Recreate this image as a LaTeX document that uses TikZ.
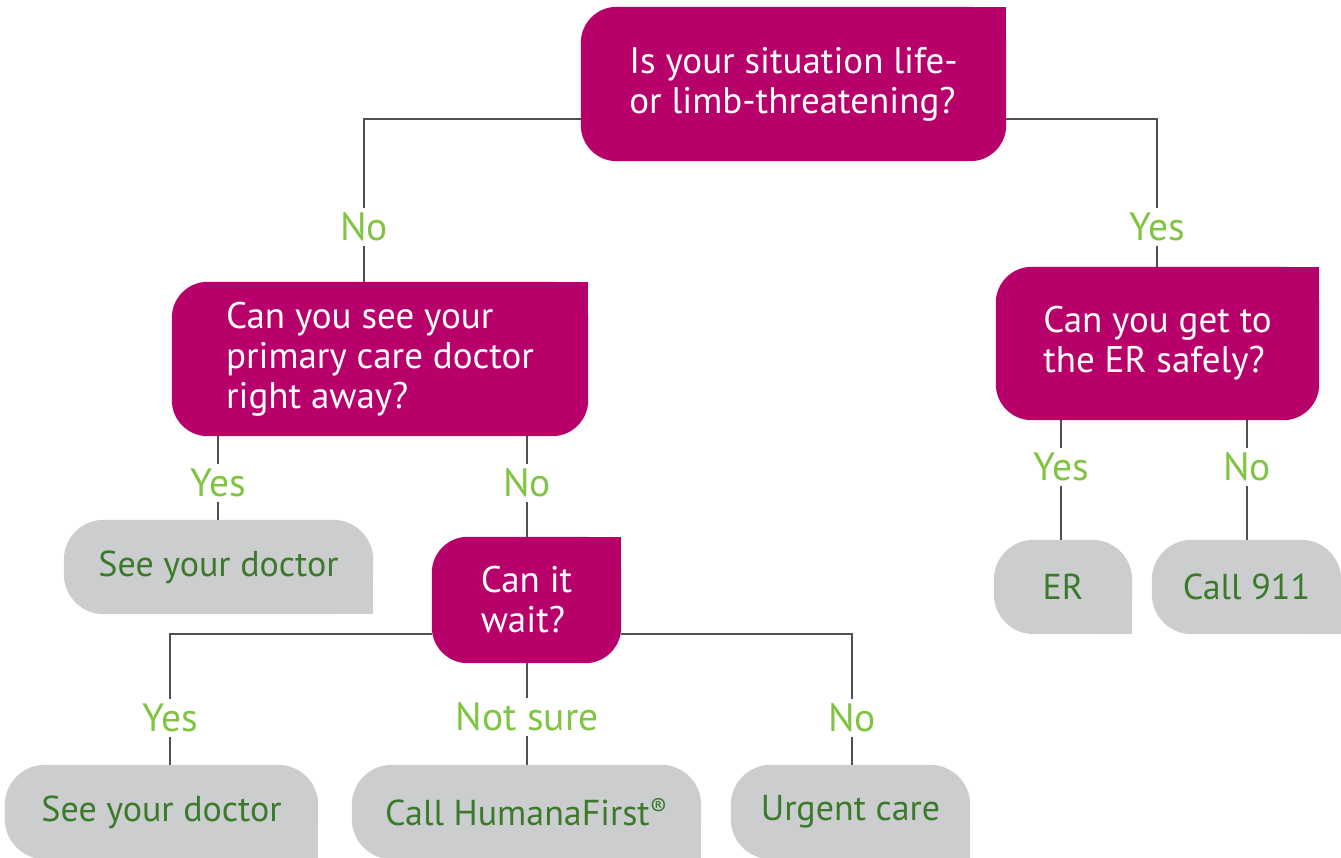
\documentclass[tikz,border=0pt]{standalone}
\usepackage{fontspec}
\setmainfont{PT Sans}
\usepackage{xcolor}
\usetikzlibrary{backgrounds}

\definecolor{qmag}{RGB}{184,0,107}
\definecolor{agrey}{RGB}{204,205,207}
\definecolor{adark}{RGB}{58,122,42}
\definecolor{lgreen}{RGB}{128,196,66}
\definecolor{lgrey}{RGB}{80,80,80}

% question boxes: square top right, answer boxes: square bottom right
\newcommand\magback[1]{%
  \fill[qmag,rounded corners=36pt] (#1.south west) rectangle (#1.north east);
  \fill[qmag] (#1.center) rectangle (#1.north east);}
\newcommand\greyback[1]{%
  \fill[agrey,rounded corners=40pt] (#1.south west) rectangle (#1.north east);
  \fill[agrey] (#1.center) rectangle (#1.south east);}

\begin{document}
\begin{tikzpicture}[x=1pt,y=-1pt,
  qbox/.style={text=white,align=left,inner sep=0pt,font=\fontsize{37}{40}\selectfont},
  abox/.style={text=adark,inner sep=0pt,font=\fontsize{36}{40}\selectfont},
  lbl/.style={text=lgreen,inner xsep=2pt,inner ysep=5pt,font=\fontsize{39.5}{40}\selectfont},
  link/.style={draw=lgrey,line width=1.8pt}]
  \useasboundingbox (0,0) rectangle (1341,858);

  % questions
  \node[qbox,minimum width=425pt,minimum height=154pt] (life) at (793.5,84)
    {Is your situation life-\\or limb-threatening?};
  \node[qbox,minimum width=416pt,minimum height=154pt] (primary) at (380,359)
    {Can you see your\\primary care doctor\\right away?};
  \node[qbox,minimum width=323pt,minimum height=153pt] (safely) at (1157.5,343.5)
    {Can you get to\\the ER safely?};
  \node[qbox,minimum width=189pt,minimum height=126pt] (wait) at (526.5,600)
    {Can it\\wait?};

  % answers
  \node[abox,minimum width=309pt,minimum height=94pt] (doctorA) at (218.5,567) {See your doctor};
  \node[abox,minimum width=313pt,minimum height=94pt] (doctorB) at (161.5,812) {See your doctor};
  \node[abox,minimum width=349pt,minimum height=94pt] (humana) at (526.5,812)
    {Call HumanaFirst\textsuperscript{\textregistered}};
  \node[abox,minimum width=239pt,minimum height=94pt] (urgent) at (850.5,812) {Urgent care};
  \node[abox,minimum width=138pt,minimum height=94pt] (er) at (1063,587) {ER};
  \node[abox,minimum width=189pt,minimum height=94pt] (call) at (1246.5,587) {Call 911};

  % branch labels
  \node[lbl] (noA) at (364,227) {No};
  \node[lbl] (yesA) at (1157,227) {Yes};
  \node[lbl] (yesB) at (218,483) {Yes};
  \node[lbl] (noB) at (527,483) {No};
  \node[lbl] (yesC) at (1061,467) {Yes};
  \node[lbl] (noC) at (1247,467) {No};
  \node[lbl] (yesD) at (170,718) {Yes};
  \node[lbl] (unsure) at (527,717) {Not sure};
  \node[lbl] (noD) at (852,718) {No};

  \begin{scope}[on background layer]
    \magback{life} \magback{primary} \magback{safely} \magback{wait}
    \greyback{doctorA} \greyback{doctorB} \greyback{humana}
    \greyback{urgent} \greyback{er} \greyback{call}
  \end{scope}

  \draw[link] ([yshift=-35pt]life.west) -| (noA);
  \draw[link] (noA) -- (noA |- primary.north);
  \draw[link] ([yshift=-35pt]life.east) -| (yesA);
  \draw[link] (yesA) -- (yesA |- safely.north);

  \draw[link] (yesB |- primary.south) -- (yesB);
  \draw[link] (yesB) -- (yesB |- doctorA.north);
  \draw[link] (noB |- primary.south) -- (noB);
  \draw[link] (noB) -- (noB |- wait.north);

  \draw[link] (yesC |- safely.south) -- (yesC);
  \draw[link] (yesC) -- (yesC |- er.north);
  \draw[link] (noC |- safely.south) -- (noC);
  \draw[link] (noC) -- (noC |- call.north);

  \draw[link] ([yshift=-34pt]wait.west) -| (yesD);
  \draw[link] (yesD) -- (yesD |- doctorB.north);
  \draw[link] (unsure |- wait.south) -- (unsure);
  \draw[link] (unsure) -- (unsure |- humana.north);
  \draw[link] ([yshift=-34pt]wait.east) -| (noD);
  \draw[link] (noD) -- (noD |- urgent.north);
\end{tikzpicture}
\end{document}
